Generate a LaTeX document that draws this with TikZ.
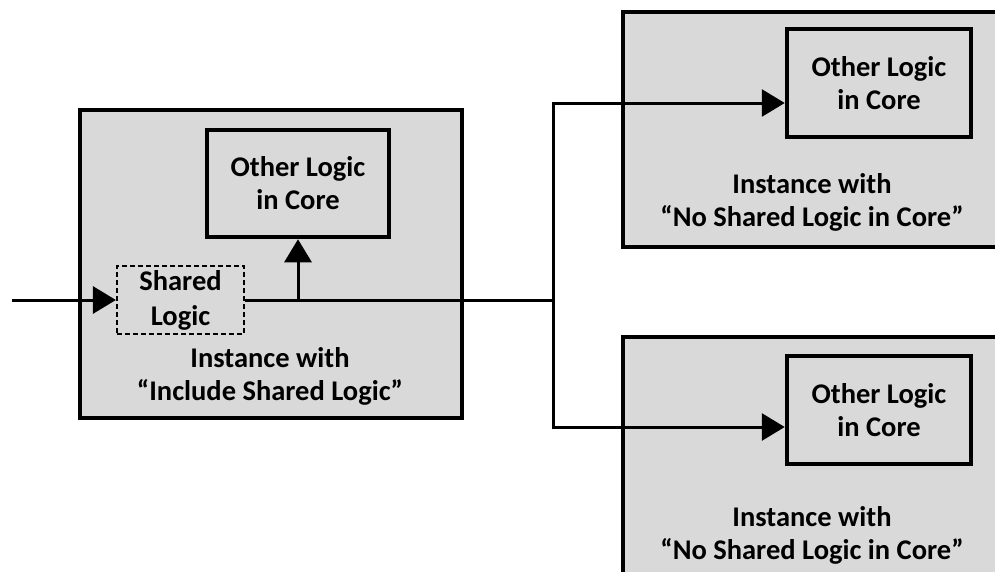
\documentclass[tikz,border=0pt]{standalone}
\usepackage{fontspec}
\setmainfont{Carlito}
\usetikzlibrary{arrows.meta}
\definecolor{boxgray}{HTML}{D9D9D9}
\tikzset{
  outerbox/.style={draw=black, fill=boxgray, line width=4pt, rectangle, inner sep=0pt},
  innerbox/.style={draw=black, fill=boxgray, line width=4.5pt, rectangle, inner sep=0pt, align=center, font=\fontsize{28.5}{33}\selectfont\bfseries},
  sharedbox/.style={draw=black, fill=boxgray, line width=2.2pt, dash pattern=on 5pt off 3pt, rectangle, inner sep=0pt, align=center, font=\fontsize{28.5}{35}\selectfont\bfseries},
  label/.style={align=center, inner sep=0pt, font=\fontsize{28.5}{33}\selectfont\bfseries},
  conn/.style={line width=3pt},
  arr/.style={line width=3pt, -{Triangle[length=23pt,width=27pt]}},
}
\begin{document}
\begin{tikzpicture}[x=1pt,y=-1pt]
\useasboundingbox (0,0) rectangle (995,571);
\clip (0,0) rectangle (995,571);
\fill[white] (0,0) rectangle (995,571);
% outer boxes
\node[outerbox, minimum width=382pt, minimum height=308pt] (L) at (271,264) {};
\node[outerbox, minimum width=397pt, minimum height=235pt] (TR) at (821.5,129.5) {};
\node[outerbox, minimum width=397pt, minimum height=263pt] (BR) at (821.5,468.5) {};
% labels
\node[label] (Llab) at (270,376) {Instance with\\“Include Shared Logic”};
\node[label] (TRlab) at (812,202) {Instance with\\“No Shared Logic in Core”};
\node[label] (BRlab) at (812,535) {Instance with\\“No Shared Logic in Core”};
% inner boxes
\node[innerbox, minimum width=182pt, minimum height=107pt] (Lin) at (298,183.5) {Other Logic\\in Core};
\node[innerbox, minimum width=184pt, minimum height=108pt] (TRin) at (879,83) {Other Logic\\in Core};
\node[innerbox, minimum width=184pt, minimum height=108pt] (BRin) at (879,410) {Other Logic\\in Core};
\node[sharedbox, minimum width=127pt, minimum height=68pt] (S) at (180.5,300) {Shared\\Logic};
% connectors
\coordinate (in) at (12,300);
\coordinate (j) at (553,300);
\coordinate (tap) at (298,300);
\coordinate (jt) at (553,103);
\coordinate (jb) at (553,427);
\draw[arr] (in) -- (S.west);
\draw[conn] (S.east) -- (j);
\draw[arr] (tap) -- (Lin.south);
\draw[arr] (jb) -- (jt) -- (jt -| TRin.west);
\draw[arr] (jt) -- (jb) -- (jb -| BRin.west);
\end{tikzpicture}
\end{document}
